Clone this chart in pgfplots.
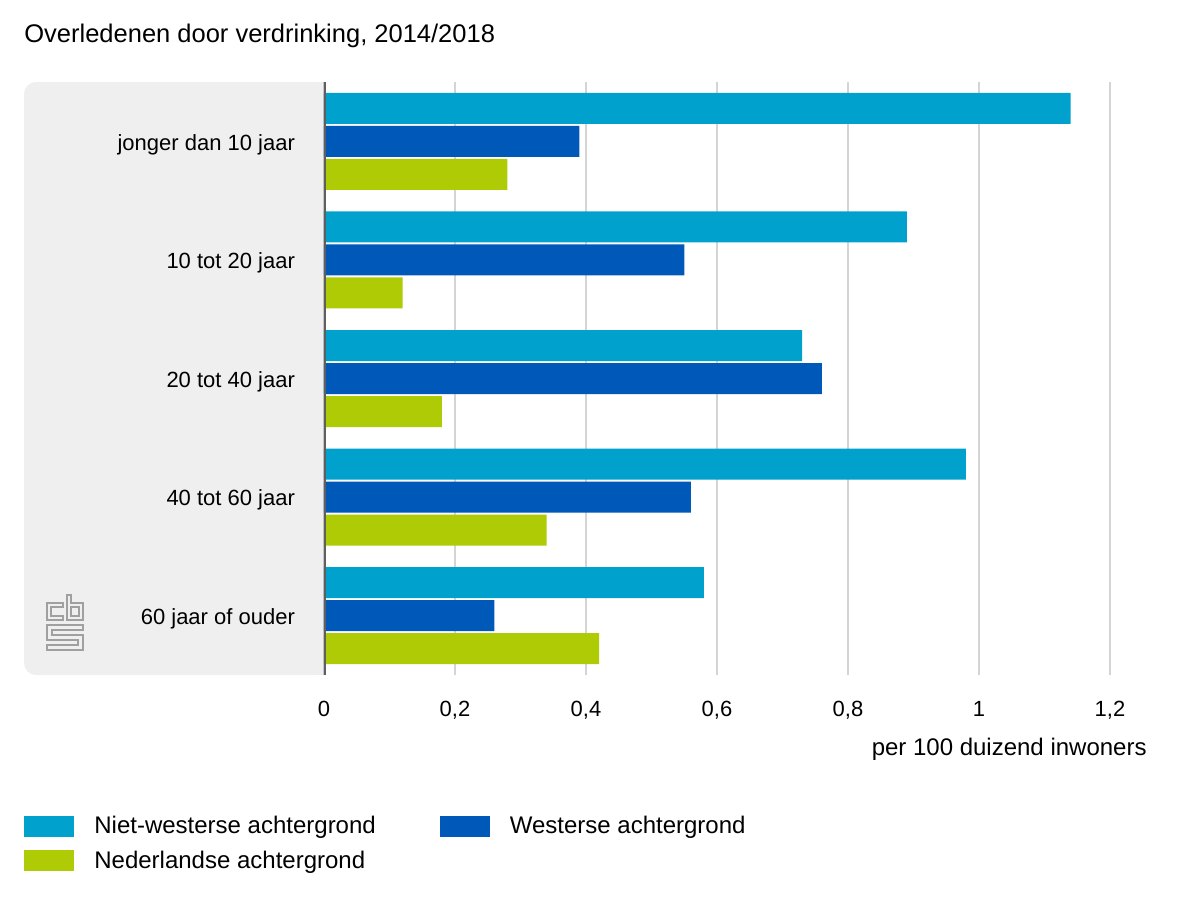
\documentclass[border=0pt]{standalone}
\usepackage{pgfplots}
\pgfplotsset{compat=1.18}
\usepackage{fontspec}
\setmainfont{Liberation Sans}
\definecolor{nw}{HTML}{00A1CD}
\definecolor{ws}{HTML}{0058B8}
\definecolor{nl}{HTML}{AFCB05}
\definecolor{bgc}{HTML}{EFEFEF}
\definecolor{axc}{HTML}{5F5F5F}
\definecolor{grc}{HTML}{D4D4D4}
\definecolor{logoc}{HTML}{A0A0A0}
\begin{document}
\begin{tikzpicture}
\begin{scope}[x=0.5pt,y=-0.5pt]
\path (0,0) rectangle (1200,900);
\fill[bgc, rounded corners=6pt] (24,82) rectangle (324,675);
\fill[bgc] (300,82) rectangle (324,675);
\node[anchor=west, inner sep=0pt, font=\fontsize{12.75pt}{15pt}\selectfont] at (24,36) {Overledenen door verdrinking, 2014/2018};
\node[anchor=east, inner sep=0pt, font=\fontsize{12pt}{14pt}\selectfont] at (1147,749) {per 100 duizend inwoners};
% logo
\begin{scope}[draw=logoc, line width=1pt]
\draw (63,603) -- (47,603) -- (47,620) -- (63,620) -- (63,616) -- (51,616) -- (51,607) -- (63,607) -- cycle;
\draw (67,595) -- (71,595) -- (71,603) -- (83,603) -- (83,620) -- (67,620) -- cycle;
\draw (71,607) -- (79,607) -- (79,616) -- (71,616) -- cycle;
\draw (47,625) -- (83,625) -- (83,630) -- (52,630) -- (52,635) -- (83,635) -- (83,650) -- (47,650) -- (47,645) -- (78,645) -- (78,640) -- (47,640) -- cycle;
\end{scope}
\end{scope}
\begin{axis}[
  at={(162pt,-337.5pt)}, anchor=south west,
  scale only axis, width=393pt, height=296.5pt,
  xmin=0, xmax=1.2, ymin=-0.5, ymax=4.5,
  xbar, bar width=15.5pt,
  xtick={0,0.2,0.4,0.6,0.8,1,1.2},
  xticklabels={0,{0,2},{0,4},{0,6},{0,8},1,{1,2}},
  ytick={0,1,2,3,4},
  yticklabels={60 jaar of ouder,40 tot 60 jaar,20 tot 40 jaar,10 tot 20 jaar,jonger dan 10 jaar},
  xmajorgrids, grid style={draw=grc, line width=0.6pt},
  axis line style={draw=none},
  major tick length=0pt,
  tick style={draw=none},
  ticklabel style={font=\fontsize{11pt}{13pt}\selectfont},
  xticklabel style={yshift=-9.5pt},
  yticklabel style={xshift=-11pt, yshift=-1.5pt},
  legend cell align=left,
  legend style={at={(-0.3817,-0.231)}, anchor=north west, draw=none, fill=none,
    font=\fontsize{12pt}{14pt}\selectfont, legend columns=2,
    /tikz/every odd column/.append style={column sep=8pt},
    /tikz/every even column/.append style={column sep=30pt},
    row sep=3pt, inner sep=0pt},
  legend image code/.code={\fill[#1] (0pt,-5.25pt) rectangle (25pt,5.25pt);},
]
\addplot[fill=nw, draw=none, bar shift=16.5pt] coordinates {(0.58,0) (0.98,1) (0.73,2) (0.89,3) (1.14,4)};
\addplot[fill=ws, draw=none, bar shift=0pt] coordinates {(0.26,0) (0.56,1) (0.76,2) (0.55,3) (0.39,4)};
\addplot[fill=nl, draw=none, bar shift=-16.5pt] coordinates {(0.42,0) (0.34,1) (0.18,2) (0.12,3) (0.28,4)};
\legend{Niet-westerse achtergrond, Westerse achtergrond, Nederlandse achtergrond}
\draw[axc, line width=2pt] (axis cs:0,-0.5) -- (axis cs:0,4.5);
\end{axis}
\end{tikzpicture}
\end{document}
